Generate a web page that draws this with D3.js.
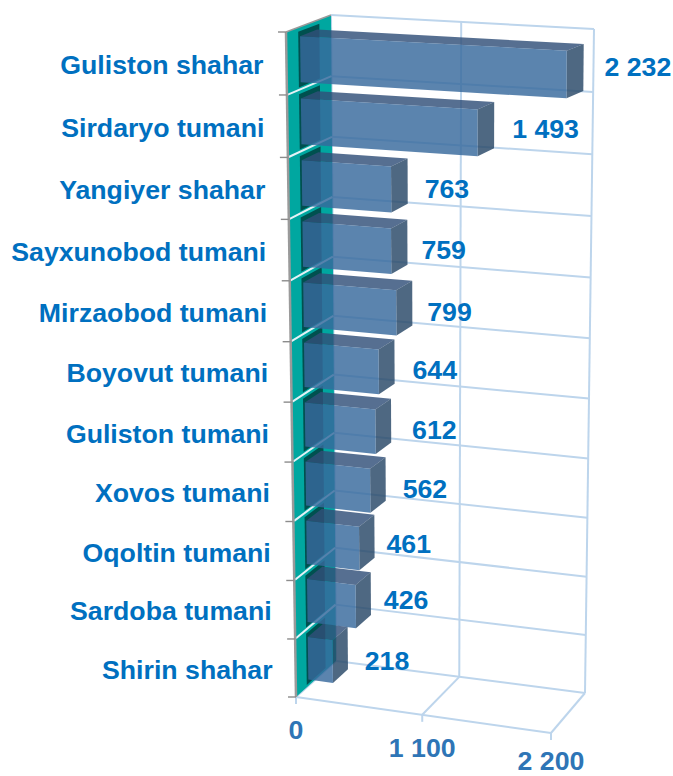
<!DOCTYPE html>
<html><head><meta charset="utf-8">
<script src="https://cdn.jsdelivr.net/npm/d3@7"></script>
<style>html,body{margin:0;padding:0;background:#fff}svg{display:block}text{font-family:"Liberation Sans",Arial,sans-serif;font-weight:700}</style>
</head><body><svg id="c" width="673" height="776"></svg>
<script>
const categories=["Guliston shahar","Sirdaryo tumani","Yangiyer shahar","Sayxunobod tumani","Mirzaobod tumani","Boyovut tumani","Guliston tumani","Xovos tumani","Oqoltin tumani","Sardoba tumani","Shirin shahar"];
const values=[2232,1493,763,759,799,644,612,562,461,426,218];
const valueLabels=["2 232","1 493","763","759","799","644","612","562","461","426","218"];
const xTicks=[0,1100,2200];
const xTickLabels=["0","1 100","2 200"];

// layout
const C={FTL:[286,32],FTR:[549,46],FBL:[296,697],FBR:[551,733],BTL:[331,15],BTR:[594,29],BBL:[336,661],BBR:[585,693]};
const kU=1.02,kW=0.956;
const warp=(t,k)=>t/(t+k*(1-t));
const lerp=(a,b,t)=>[a[0]+(b[0]-a[0])*t,a[1]+(b[1]-a[1])*t];
const xS=d3.scaleLinear().domain([0,2200]).range([0,1]);
const yS=d3.scaleBand().domain(categories).range([0,1]);
function P(v,w,d){
  const r=xS(v);
  const u=r>1?1+(r-1)*0.98:warp(r,kU);
  const W=warp(w,kW);
  const f=lerp(lerp(C.FTL,C.FTR,u),lerp(C.FBL,C.FBR,u),W);
  const b=lerp(lerp(C.BTL,C.BTR,u),lerp(C.BBL,C.BBR,u),W);
  return lerp(f,b,d);
}
const svg=d3.select("#c");
const line=d3.line();
const poly=(pts,fill,op=1,g=svg)=>g.append("path").attr("d",line(pts)+"Z").attr("fill",fill).attr("opacity",op);
const seg=(a,b,col,w)=>svg.append("line").attr("x1",a[0]).attr("y1",a[1]).attr("x2",b[0]).attr("y2",b[1]).attr("stroke",col).attr("stroke-width",w);

const grid="#bdd5ec";
const rowEdges=d3.range(0,categories.length+1).map(i=>i*yS.step());
rowEdges.forEach(w=>seg(P(0,w,1),P(2200,w,1),grid,2));
xTicks.forEach(t=>{
  seg(P(t,0,1),P(t,1,1),grid,2);
  seg(P(t,1,0),P(t,1,1),grid,2);
  const a=P(t,1,0);
  seg(a,[a[0],a[1]+7],grid,2);
});
seg(P(0,1,0),P(2200,1,0),grid,2);

poly([P(0,0,0),P(0,0,1),P(0,1,1),P(0,1,0)],"#00a7a0");
categories.forEach(c=>{
  const a=yS(c)+yS.step()*0.07,b=yS(c)+yS.step()*0.96;
  poly([P(0,a,0.27),P(0,a,0.74),P(0,b,0.74),P(0,b,0.27)],"#00504f");
});
rowEdges.slice(1,-1).forEach(w=>seg(P(0,w,0.02),P(0,w,1),"#e4f2f6",2));
seg(P(0,0,0),P(0,0,1),"#9a9a9a",1.5);
seg(P(0,0,0),P(0,1,0),"#9a9a9a",2.5);
rowEdges.forEach(w=>{const a=P(0,w,0);seg([a[0]-8,a[1]],a,"#8c8c8c",1.4);});

const dF=0.31,dB=0.69,t0=0.15,t1=0.89;
const gBars=svg.append("g");
values.forEach((v,i)=>{
  const c=categories[i],a=yS(c)+yS.step()*t0,b=yS(c)+yS.step()*t1;
  poly([P(0,a,dF),P(0,a,dB),P(v,a,dB),P(v,a,dF)],"#314f79",0.82,gBars);
  poly([P(v,a,dF),P(v,a,dB),P(v,b,dB),P(v,b,dF)],"#274766",0.82,gBars);
  poly([P(0,a,dF),P(v,a,dF),P(v,b,dF),P(0,b,dF)],"#37699c",0.82,gBars);
});

const fs=26.7;
categories.forEach((c,i)=>{
  const p=P(0,yS(c)+yS.step()*0.5,0);
  svg.append("text").attr("x",p[0]-23).attr("y",p[1]+10.5)
    .attr("text-anchor","end").attr("font-size",fs).attr("fill","#0070c0").text(c);
});
const valueGap=[21,18,17,14,15,18,21,17,12,13,17];
const valueDrop=[0,4,8,8,9,9,9,10,8,6,13];
values.forEach((v,i)=>{
  const c=categories[i],p=P(v,yS(c)+yS.step()*0.5,dB);
  svg.append("text").attr("x",p[0]+valueGap[i]).attr("y",p[1]+10+valueDrop[i])
    .attr("font-size",fs).attr("fill","#0070c0").text(valueLabels[i]);
});
xTicks.forEach((t,i)=>{
  const a=P(t,1,0);
  svg.append("text").attr("x",a[0]).attr("y",Math.min(a[1]+42,770))
    .attr("text-anchor","middle").attr("font-size",fs).attr("fill","#2e75b6").text(xTickLabels[i]);
});
</script></body></html>
